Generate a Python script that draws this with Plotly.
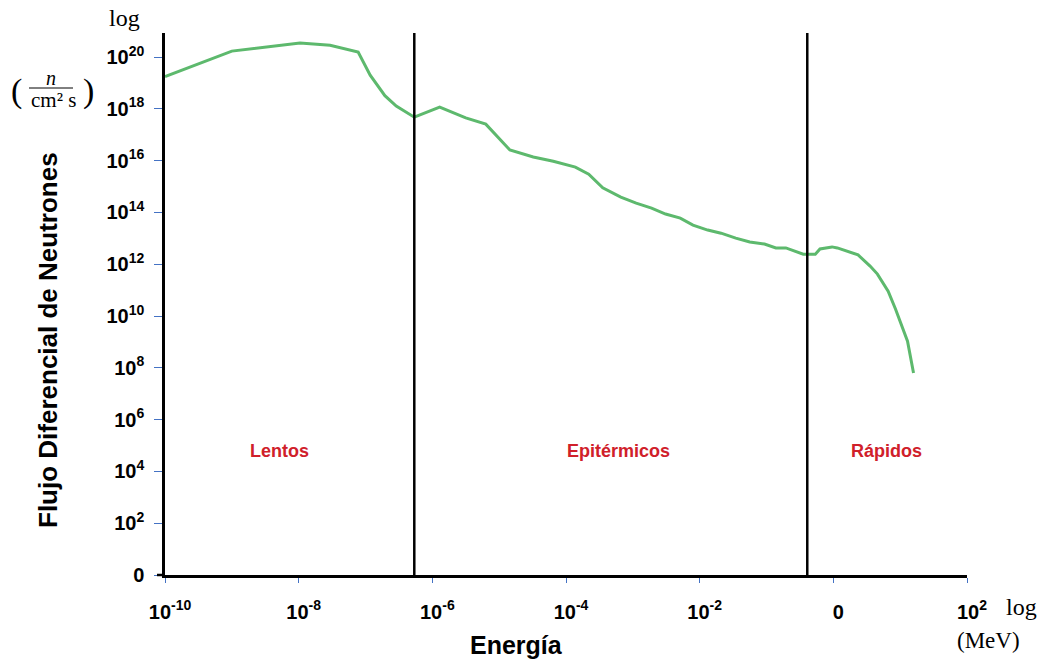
import plotly.graph_objects as go

# Data (log10 units)
energy_log = [-10.0, -9.0, -7.98, -7.53, -7.11, -6.93, -6.71, -6.54, -6.27, -5.89, -5.50, -5.20,
              -4.84, -4.69, -4.49, -4.19, -3.86, -3.66, -3.45, -3.18, -2.95, -2.72, -2.51, -2.29,
              -2.10, -1.88, -1.68, -1.46, -1.25, -1.03, -0.86, -0.71, -0.45, -0.27, -0.20, -0.02,
              0.06, 0.37, 0.55, 0.66, 0.82, 0.93, 1.11, 1.20]
flux_log = [19.25, 20.23, 20.54, 20.46, 20.19, 19.30, 18.51, 18.11, 17.68, 18.07, 17.65, 17.41,
            16.41, 16.29, 16.14, 15.98, 15.75, 15.48, 14.95, 14.59, 14.36, 14.17, 13.94, 13.78,
            13.51, 13.32, 13.20, 13.01, 12.86, 12.78, 12.63, 12.63, 12.39, 12.39, 12.59, 12.67,
            12.63, 12.36, 11.93, 11.62, 10.96, 10.27, 9.03, 7.80]
x_tickvals = [-10, -8, -6, -4, -2, 0, 2]
x_ticktext = ["10<sup>-10</sup>", "10<sup>-8</sup>", "10<sup>-6</sup>", "10<sup>-4</sup>",
              "10<sup>-2</sup>", "0", "10<sup>2</sup>"]
y_tickvals = [0, 2, 4, 6, 8, 10, 12, 14, 16, 18, 20]
y_ticktext = ["0"] + ["10<sup>%d</sup>" % v for v in y_tickvals[1:]]
boundaries = [-6.27, -0.39]
regions = ["Lentos", "Epitérmicos", "Rápidos"]
region_x = [-8.29, -3.22, 0.80]
region_y = 4.8

L, R, T, B = 165, 78, 33, 85
W, H = 1045, 660
PW, PH = W - L - R, H - T - B

def px(xp):
    return (xp - L) / PW

def py(yp):
    return (H - B - yp) / PH

fig = go.Figure()
fig.add_trace(go.Scatter(x=energy_log, y=flux_log, mode="lines",
                         line=dict(color="#5DB96D", width=3), hoverinfo="skip"))

for b in boundaries:
    fig.add_shape(type="line", xref="x", yref="paper", x0=b, x1=b, y0=0, y1=1,
                  line=dict(color="black", width=2.5))

for name, rx in zip(regions, region_x):
    fig.add_annotation(x=rx, y=region_y, xref="x", yref="y", text="<b>%s</b>" % name,
                       showarrow=False, xanchor="center", yanchor="middle",
                       font=dict(family="Liberation Sans, Arial", size=18, color="#D0202A"))

serif = "Liberation Serif, Times New Roman, serif"
sans = "Liberation Sans, Arial, sans-serif"
anns = [
    dict(x=px(124), y=py(18), text="log", size=24, fam=serif),
    dict(x=px(1022), y=py(607), text="log", size=24, fam=serif),
    dict(x=px(988), y=py(640), text="(MeV)", size=23, fam=serif),
    dict(x=px(16), y=py(91), text="(", size=34, fam=serif),
    dict(x=px(88), y=py(91), text=")", size=34, fam=serif),
    dict(x=px(51), y=py(78), text="<i>n</i>", size=20, fam=serif),
    dict(x=px(54), y=py(100), text="cm² s", size=21, fam=serif),
    dict(x=px(516), y=py(645), text="<b>Energía</b>", size=25, fam=sans),
]
for a in anns:
    fig.add_annotation(x=a["x"], y=a["y"], xref="paper", yref="paper", text=a["text"],
                       showarrow=False, xanchor="center", yanchor="middle",
                       font=dict(family=a["fam"], size=a["size"], color="black"))
fig.add_shape(type="line", xref="paper", yref="paper", x0=px(29), x1=px(73), y0=py(88), y1=py(88),
              line=dict(color="black", width=1))
fig.add_shape(type="line", xref="paper", yref="paper", x0=px(157), x1=px(165), y0=0, y1=0,
              line=dict(color="black", width=2.5))
fig.add_annotation(x=px(48), y=py(340), xref="paper", yref="paper",
                   text="<b>Flujo Diferencial de Neutrones</b>", textangle=-90, showarrow=False,
                   xanchor="center", yanchor="middle",
                   font=dict(family=sans, size=26, color="black"))

fig.update_layout(
    width=W, height=H, margin=dict(l=L, r=R, t=T, b=B, autoexpand=False),
    plot_bgcolor="white", paper_bgcolor="white", showlegend=False,
    xaxis=dict(range=[-10, 2], tickvals=x_tickvals, ticktext=x_ticktext, showgrid=False,
               zeroline=False, showline=True, linecolor="black", linewidth=2.5,
               ticks="outside", ticklen=5, tickcolor="#4472C4", tickwidth=1,
               ticklabelstandoff=12, ticklabelshift=5,
               tickfont=dict(family=sans, size=20, color="black", weight="bold")),
    yaxis=dict(range=[0, 20.93], tickvals=y_tickvals, ticktext=y_ticktext, showgrid=False,
               zeroline=False, showline=True, linecolor="black", linewidth=2.5,
               ticks="outside", ticklen=8, tickcolor="#4472C4", tickwidth=1,
               ticklabelstandoff=6,
               tickfont=dict(family=sans, size=20, color="black", weight="bold")),
)
fig.write_html("out.html", config={"displayModeBar": False},
               post_script="document.body.style.margin='0';document.body.style.padding='0';")
